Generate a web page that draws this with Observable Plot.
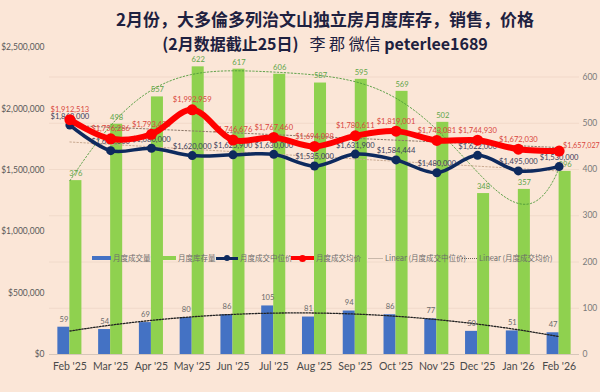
<!DOCTYPE html>
<html><head><meta charset="utf-8">
<script src="https://cdn.jsdelivr.net/npm/d3@7"></script>
<script src="https://cdn.jsdelivr.net/npm/@observablehq/plot@0.6"></script>
<style>
body{margin:0;background:#FBE6D7;}
#wrap{position:relative;width:600px;height:392px;overflow:hidden;background:#FBE6D7;}
#chart{position:absolute;left:0;top:0;}
#title{position:absolute;top:7px;left:50px;width:550px;text-align:center;font-family:"Noto Sans CJK SC";color:#1E2140;font-weight:bold;line-height:24px;font-size:17px;}
#title .l2{font-size:16px;}
#title .n{font-weight:normal;}
.lg{position:absolute;top:253px;font-family:"Noto Sans CJK SC";font-size:7.5px;color:#6b6b6b;line-height:10px;white-space:nowrap;}
.sw{position:absolute;}
[aria-label^="x-axis"]{font-size:10.5px;}
[aria-label^="x-axis"] text{fill:#4a4a4a;}
</style>
</head><body>
<div id="wrap">
  <div id="chart"></div>
  <div id="title"><div>2月份，大多倫多列治文山独立房月度库存，销售，价格</div>
  <div class="l2">(2月数据截止25日)&nbsp;&nbsp;&nbsp;<span class="n">李 郡 微信</span> peterlee1689</div></div>
  <div id="legend"></div>
</div>
<script>
const months = ["Feb '25","Mar '25","Apr '25","May '25","Jun '25","Jul '25","Aug '25","Sep '25","Oct '25","Nov '25","Dec '25","Jan '26","Feb '26"];
const sales = [59,54,69,80,86,105,81,94,86,77,50,51,47];
const inventory = [376,498,557,622,617,606,587,595,569,502,348,357,396];
const medianPrice = [1868000,1660000,1680000,1620000,1625900,1630000,1535000,1631900,1584444,1480000,1622000,1495000,1530000];
const avgPrice = [1912513,1756286,1793436,1992959,1746676,1767460,1694098,1780611,1819001,1743081,1744930,1672030,1657027];
const leftTicks = [0,500000,1000000,1500000,2000000,2500000];
const rightTicks = [0,100,200,300,400,500,600];
const legendItems = ["月度成交量","月度库存量","月度成交中位价","月度成交均价","Linear (月度成交中位价)","Linear (月度成交均价)"];

const K = 3766; // count units -> price-axis units (secondary axis)
const rows = months.map((m,i)=>({i, m, sales:sales[i], inv:inventory[i], med:medianPrice[i], avg:avgPrice[i]}));

// least-squares polynomial trendline (as in the spreadsheet trendlines)
function polyfit(ys, order){
  const xs = ys.map((_,i)=>(i+1-7)/6);
  const m = order+1;
  const A = Array.from({length:m},()=>new Array(m+1).fill(0));
  for(let r=0;r<m;r++){
    for(let c=0;c<m;c++){ A[r][c] = d3.sum(xs, x=>Math.pow(x,r+c)); }
    A[r][m] = d3.sum(xs.map((x,k)=>Math.pow(x,r)*ys[k]));
  }
  for(let c=0;c<m;c++){
    let p=c; for(let r=c+1;r<m;r++) if(Math.abs(A[r][c])>Math.abs(A[p][c])) p=r;
    [A[c],A[p]]=[A[p],A[c]];
    for(let r=0;r<m;r++){ if(r===c) continue; const f=A[r][c]/A[c][c]; for(let k=c;k<=m;k++) A[r][k]-=f*A[c][k]; }
  }
  const coef = A.map((row,r)=>row[m]/row[r]);
  return t => { const u=(t+1-7)/6; return coef.reduce((s,c,k)=>s+c*Math.pow(u,k),0); };
}
const ts = d3.range(0, 12.0001, 0.1);
const invF = polyfit(inventory, 6), salesF = polyfit(sales, 2);
const medF = polyfit(medianPrice, 1), avgF = polyfit(avgPrice, 1);
const invFit = ts.map(t=>({t, y: invF(t)*K}));
const salesFit = ts.map(t=>({t, y: salesF(t)*K}));
const medFit = ts.map(t=>({t, y: medF(t)}));
const avgFit = ts.map(t=>({t, y: avgF(t)}));

const money = d3.format("$,.0f");
const NAVY = "#0E2A5E", RED = "#FF0000", BLUE = "#4472C4", GREEN = "#8FD14F";
const FS = 7.6;

const plot = Plot.plot({
  width:600, height:392, marginTop:47, marginBottom:38, marginLeft:49, marginRight:21,
  style:{background:"transparent", fontFamily:"Lato", fontSize:"8.5px", color:"#595959", overflow:"visible"},
  x:{type:"linear", domain:[-0.5,12.5], ticks:d3.range(13), tickFormat:i=>months[i], tickSize:0, tickPadding:8, label:null},
  y:{domain:[0,2500000], ticks:leftTicks, tickFormat:d=>money(d), tickSize:0, tickPadding:5, label:null},
  marks:[
    Plot.ruleY(rightTicks.slice(1).map(c=>c*K), {stroke:"#EFD7C6", strokeWidth:0.8}),
    Plot.ruleY([0], {stroke:"#D6C6BA", strokeWidth:1}),
    Plot.rectY(rows, {x1:d=>d.i-0.295, x2:d=>d.i, y:d=>d.sales*K, fill:BLUE}),
    Plot.rectY(rows, {x1:d=>d.i, x2:d=>d.i+0.295, y:d=>d.inv*K, fill:GREEN}),
    Plot.line(invFit, {x:"t", y:"y", stroke:"#4E9A3A", strokeWidth:0.9, strokeDasharray:"1.5,2"}),
    Plot.line(salesFit, {x:"t", y:"y", stroke:"#222", strokeWidth:1.3, strokeDasharray:"1.5,1.5"}),
    Plot.text(rows, {x:d=>d.i+0.147, y:d=>d.inv*K, text:d=>String(d.inv), dy:-7, fill:"#5EA548", fontSize:FS}),
    Plot.text(rows, {x:d=>d.i-0.147, y:d=>d.sales*K, text:d=>String(d.sales), dy:-8, fill:"#6b6b6b", fontSize:FS}),
    Plot.line(medFit, {x:"t", y:"y", stroke:"#C9A990", strokeWidth:1, strokeDasharray:"1.5,2"}),
    Plot.line(avgFit, {x:"t", y:"y", stroke:"#8A7566", strokeWidth:1, strokeDasharray:"1.5,2"}),
    Plot.text(rows, {x:"i", y:"med", text:d=>money(d.med), dy:-9, fill:"#3D3F5C", fontSize:FS}),
    Plot.text(rows.filter(d=>d.i<12), {x:"i", y:"avg", text:d=>money(d.avg), dy:-10, fill:"#D9463E", fontSize:FS}),
    Plot.text(rows.filter(d=>d.i===12), {x:"i", y:"avg", text:d=>money(d.avg), dx:4, dy:-5, textAnchor:"start", fill:"#D9463E", fontSize:7.2}),
    Plot.line(rows, {x:"i", y:"med", stroke:NAVY, strokeWidth:3.5, curve:"catmull-rom"}),
    Plot.dot(rows, {x:"i", y:"med", r:4.5, fill:NAVY}),
    Plot.line(rows, {x:"i", y:"avg", stroke:RED, strokeWidth:6, curve:"catmull-rom"}),
    Plot.dot(rows, {x:"i", y:"avg", r:5.5, fill:RED}),
    Plot.text(rightTicks, {y:c=>c*K, text:c=>String(c), frameAnchor:"right", textAnchor:"start", dx:3, fill:"#7a7a7a", fontSize:8.5})
  ]
});
document.getElementById("chart").appendChild(plot);

// legend (inside plot area, as in the reference)
const lg = document.getElementById("legend");
const spec = [
  {x:92, w:19, kind:"bar", color:BLUE},
  {x:158, w:18, kind:"bar", color:GREEN},
  {x:216, w:22, kind:"line", color:NAVY, lw:3, r:3},
  {x:291, w:23, kind:"line", color:RED, lw:3.5, r:3.5},
  {x:368, w:15, kind:"thin", color:"#C9B8AA"},
  {x:462, w:15, kind:"dot", color:"#6E6258"}
];
spec.forEach((s,k)=>{
  const d = document.createElement("div");
  d.className="lg"; d.style.left = s.x+"px";
  let sw = "";
  const cy = 5;
  if(s.kind==="bar") sw = `<div class="sw" style="left:0;top:${cy-2}px;width:${s.w}px;height:4px;background:${s.color}"></div>`;
  if(s.kind==="line") sw = `<div class="sw" style="left:0;top:${cy-s.lw/2}px;width:${s.w}px;height:${s.lw}px;background:${s.color}"></div><div class="sw" style="left:${s.w/2-s.r}px;top:${cy-s.r}px;width:${2*s.r}px;height:${2*s.r}px;border-radius:50%;background:${s.color}"></div>`;
  if(s.kind==="thin") sw = `<div class="sw" style="left:0;top:${cy}px;width:${s.w}px;height:0;border-top:1px solid ${s.color}"></div>`;
  if(s.kind==="dot") sw = `<div class="sw" style="left:0;top:${cy}px;width:${s.w}px;height:0;border-top:1px dotted ${s.color}"></div>`;
  d.innerHTML = sw + `<span style="position:absolute;left:${s.w+2}px;top:0">${legendItems[k]}</span>`;
  lg.appendChild(d);
});
</script>
</body></html>
